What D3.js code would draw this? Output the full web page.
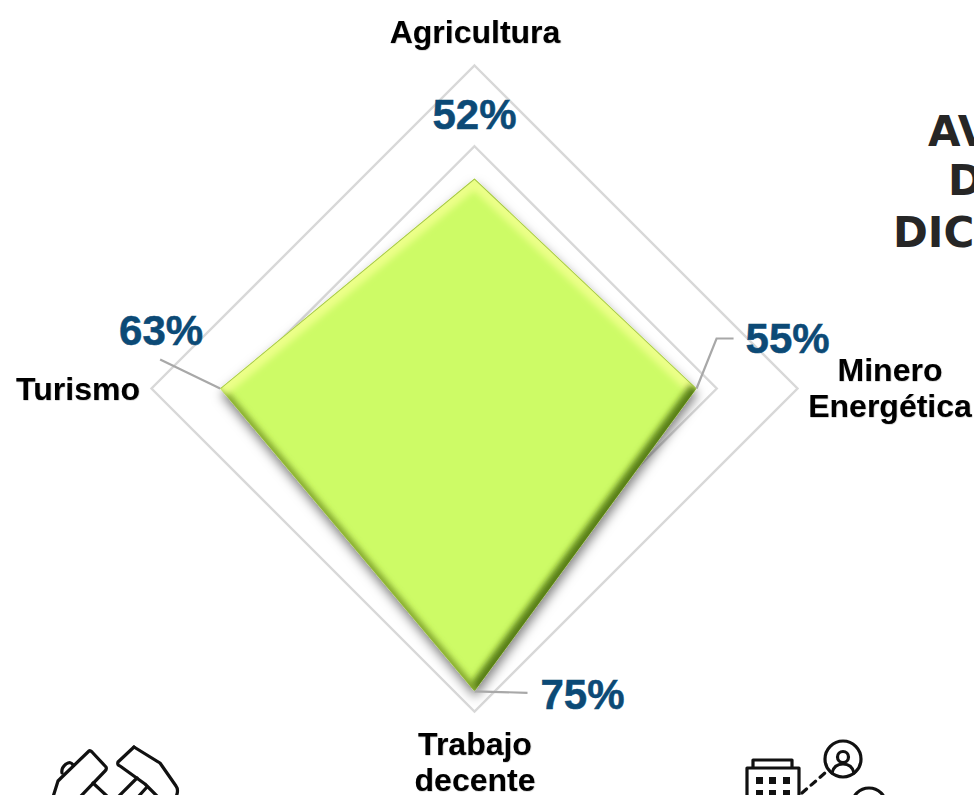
<!DOCTYPE html>
<html><head><meta charset="utf-8">
<script src="https://cdn.jsdelivr.net/npm/d3@7"></script>
<style>html,body{margin:0;padding:0;background:#fff;overflow:hidden}svg{display:block}
text{font-family:"Liberation Sans",Arial,sans-serif;font-weight:700}</style></head>
<body><svg id="c" width="974" height="795"></svg>
<script>
const categories = ["Agricultura","Minero Energética","Trabajo decente","Turismo"];
const seriesValues = [52,55,75,63];
const gridValues = [20,40,60,80];
const titleLines = ["AV","D","DIC"];

const cx=474.5, cy=388.5;
const svg=d3.select("#c");
const r=d3.scaleLinear().domain([0,80]).range([0,323]);
const ang=i=>i*Math.PI*2/categories.length;
const pt=(v,i)=>[cx+r(v)*Math.sin(ang(i)),cy-r(v)*Math.cos(ang(i))];
const radial=d3.lineRadial().angle((d,i)=>ang(i)).radius(d=>r(d)).curve(d3.curveLinearClosed);

const defs=svg.append("defs");
const sh=defs.append("filter").attr("id","shadow").attr("x","-20%").attr("y","-20%").attr("width","140%").attr("height","140%");
sh.append("feDropShadow").attr("dx",1).attr("dy",6).attr("stdDeviation",5.5).attr("flood-color","#000").attr("flood-opacity",.5);
defs.append("filter").attr("id","b").attr("x","-20%").attr("y","-20%").attr("width","140%").attr("height","140%")
  .append("feGaussianBlur").attr("stdDeviation",3);
const ts=defs.append("filter").attr("id","ts").attr("x","-10%").attr("y","-20%").attr("width","120%").attr("height","140%");
ts.append("feDropShadow").attr("dx",.4).attr("dy",.4).attr("stdDeviation",.7).attr("flood-color","#000").attr("flood-opacity",.35);
defs.append("clipPath").attr("id","poly").append("path").attr("transform",`translate(${cx},${cy})`).attr("d",radial(seriesValues));

// grid
svg.append("g").attr("transform",`translate(${cx},${cy})`).selectAll("path").data(gridValues).join("path")
  .attr("d",v=>radial(categories.map(()=>v))).attr("fill","none").attr("stroke","#d8d8d8").attr("stroke-width",2.4);

// polygon with bevel
const poly=svg.append("g");
poly.append("path").attr("transform",`translate(${cx},${cy})`).attr("d",radial(seriesValues))
  .attr("fill","#cdfb66").attr("filter","url(#shadow)");
const bevel=poly.append("g").attr("clip-path","url(#poly)");
const edgeStyle=[["#ecff88",18],["#587f14",15],["#7ea02c",8],["#ecff88",18]];
const P=seriesValues.map(pt);
P.forEach((p,i)=>{const q=P[(i+1)%P.length];
  bevel.append("line").attr("x1",p[0]).attr("y1",p[1]).attr("x2",q[0]).attr("y2",q[1])
   .attr("stroke",edgeStyle[i][0]).attr("stroke-width",edgeStyle[i][1]).attr("filter","url(#b)");});
[0,3].forEach(i=>{const p=P[i],q=P[(i+1)%P.length];
  bevel.append("line").attr("x1",p[0]).attr("y1",p[1]).attr("x2",q[0]).attr("y2",q[1])
   .attr("stroke","#9dbf45").attr("stroke-width",1.6);});

// leaders
const leaders=[null,[[20,-50],[37,-50]],[[53,1.5]],[[-60,-29]]];
const lineGen=d3.line();
leaders.forEach((l,i)=>{ if(!l) return; const p=P[i];
  svg.append("path").attr("d",lineGen([p,...l.map(o=>[p[0]+o[0],p[1]+o[1]])])).attr("fill","none").attr("stroke","#a8a8a8").attr("stroke-width",2.2);});

// value labels
const valOff=[[0,-50],[91,-36],[108,18],[-59,-44]];
svg.selectAll("text.v").data(seriesValues).join("text").attr("class","v")
  .attr("x",(d,i)=>P[i][0]+valOff[i][0]).attr("y",(d,i)=>P[i][1]+valOff[i][1])
  .attr("text-anchor","middle").attr("font-size",42).attr("fill","#0c4a76")
  .attr("stroke","#0c4a76").attr("stroke-width",.5).text(d=>d+"%");

// category labels
const catLines=[["Agricultura"],["Minero","Energética"],["Trabajo","decente"],["Turismo"]];
const catPos=[[475,43],[890,381],[475,755],[78,400]];
catLines.forEach((ls,i)=>{ ls.forEach((s,j)=>{
  svg.append("text").attr("x",catPos[i][0]).attr("y",catPos[i][1]+j*36).attr("text-anchor","middle")
    .attr("font-size",32).attr("fill","#000").attr("filter","url(#ts)").text(s);});});

// clipped title fragments
const titleX=[928,948,893], titleY=[146,195,247];
titleLines.forEach((s,i)=>{svg.append("text").attr("x",titleX[i]).attr("y",titleY[i])
  .style("font-family","'DejaVu Sans'").attr("font-size",42).attr("fill","#262626").text(s);});

// icons
const ic=svg.append("g").attr("fill","none").attr("stroke","#111").attr("stroke-width",3.2).attr("stroke-linejoin","round").attr("stroke-linecap","round");
ic.append("path").attr("d","M53 797 L58 781 L62 777 L89 751 Q90 750 92 752 L106 767 Q107 769 105 771 L80 797");
ic.append("path").attr("d","M62 773 Q61 768 66 764 Q71 761 73 765");
ic.append("path").attr("d","M93 783 L108 797");
ic.append("path").attr("d","M134 747 L160 763 L176 786 Q179 790 176 797");
ic.append("path").attr("d","M134 747 L118 762 Q117 765 120 766 L145 784 L158 797");
ic.append("path").attr("d","M137 778 L118 797 M147 787 L138 797");
ic.append("path").attr("d","M753 768 V760 H792 V768 M747 797 V768 H799 V797");
const win=svg.append("g").attr("fill","#111");
[756,769,783].forEach(x=>[777,790].forEach(y=>win.append("rect").attr("x",x).attr("y",y).attr("width",7).attr("height",7)));
ic.append("path").attr("d","M802 793 L825 773").attr("stroke-dasharray","6 6");
ic.append("circle").attr("cx",843).attr("cy",759).attr("r",18);
ic.append("circle").attr("cx",843).attr("cy",757).attr("r",5.5);
ic.append("path").attr("d","M832 773 Q834 764 843 764 Q852 764 854 773");
ic.append("circle").attr("cx",869).attr("cy",805).attr("r",17);
</script></body></html>
